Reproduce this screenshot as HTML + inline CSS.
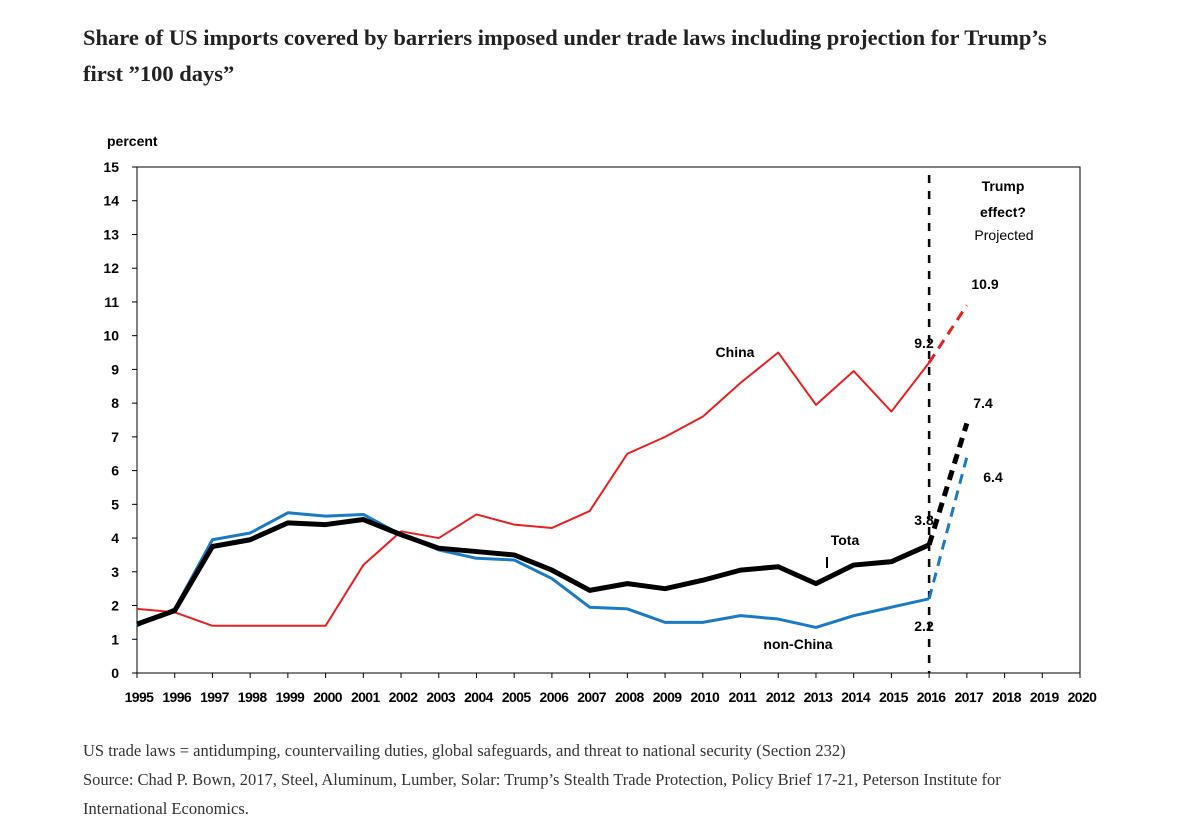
<!DOCTYPE html>
<html><head><meta charset="utf-8"><style>
body{margin:0;background:#fff;width:1183px;height:833px;overflow:hidden;position:relative;font-family:"Liberation Serif",serif}
.title{position:absolute;left:83px;top:20px;width:985px;font-weight:bold;font-size:22.5px;line-height:36px;color:#222}
.note{position:absolute;left:83px;font-size:16.5px;color:#333;line-height:29px}
svg text{font-family:"Liberation Sans",sans-serif;font-weight:bold;font-size:14px;fill:#000}
</style></head><body>
<div class="title">Share of US imports covered by barriers imposed under trade laws including projection for Trump’s first ”100 days”</div>
<svg id="chart" width="1183" height="833" style="position:absolute;left:0;top:0"></svg>
<div class="note" style="top:736px">US trade laws = antidumping, countervailing duties, global safeguards, and threat to national security (Section 232)</div>
<div class="note" style="top:765px;width:1000px">Source: Chad P. Bown, 2017, Steel, Aluminum, Lumber, Solar: Trump’s Stealth Trade Protection, Policy Brief 17-21, Peterson Institute for International Economics.</div>
<script>
const years=[1995,1996,1997,1998,1999,2000,2001,2002,2003,2004,2005,2006,2007,2008,2009,2010,2011,2012,2013,2014,2015,2016];
const china=[1.9,1.8,1.4,1.4,1.4,1.4,3.2,4.2,4.0,4.7,4.4,4.3,4.8,6.5,7.0,7.6,8.6,9.5,7.95,8.95,7.75,9.2];
const total=[1.45,1.85,3.75,3.95,4.45,4.4,4.55,4.1,3.7,3.6,3.5,3.05,2.45,2.65,2.5,2.75,3.05,3.15,2.65,3.2,3.3,3.8];
const nonChina=[1.4,1.9,3.95,4.15,4.75,4.65,4.7,4.1,3.65,3.4,3.35,2.8,1.95,1.9,1.5,1.5,1.7,1.6,1.35,1.7,1.95,2.2];
const projChina=10.9, projTotal=7.4, projNon=6.4;
const yTicks=[0,1,2,3,4,5,6,7,8,9,10,11,12,13,14,15];
const xTicks=[1995,1996,1997,1998,1999,2000,2001,2002,2003,2004,2005,2006,2007,2008,2009,2010,2011,2012,2013,2014,2015,2016,2017,2018,2019,2020];
const X0=137,X1=1080,Y0=673,Y1=167;
const xs=y=>X0+(y-1995)*(X1-X0)/25, ys=v=>Y0-v*(Y0-Y1)/15;
const svg=document.getElementById('chart'),NS='http://www.w3.org/2000/svg';
function mk(t,a,txt){const e=document.createElementNS(NS,t);for(const k in a)e.setAttribute(k,a[k]);if(txt!==undefined)e.textContent=txt;svg.appendChild(e);return e;}
let e=mk('rect',{x:X0,y:Y1,width:X1-X0,height:Y0-Y1,fill:'none',stroke:'#000','stroke-width':1});


yTicks.forEach(v=>{mk('line',{x1:X0-5,x2:X0,y1:ys(v),y2:ys(v),stroke:'#000'});
 e=mk('text',{x:119,y:ys(v)+5,'text-anchor':'end'},v);
 
 });
xTicks.forEach(v=>{mk('line',{x1:xs(v),x2:xs(v),y1:Y0,y2:Y0+5,stroke:'#000'});
 e=mk('text',{x:xs(v)+2,y:Y0+29,'text-anchor':'middle','font-size':'13.5','letter-spacing':'-0.6'},v);
 
 });
e=mk('text',{x:107,y:146},'percent');


mk('line',{x1:xs(2016),x2:xs(2016),y1:Y1+8,y2:Y0,stroke:'#000','stroke-width':2.5,'stroke-dasharray':'8,8'});
function line(arr,col,w,name){const p=arr.map((v,i)=>xs(years[i])+','+ys(v)).join(' ');
 e=mk('polyline',{points:p,fill:'none',stroke:col,'stroke-width':w,'stroke-linejoin':'round'});
 
 }
function proj(last,v,col,w,name){e=mk('line',{x1:xs(2016),y1:ys(last),x2:xs(2017),y2:ys(v),stroke:col,'stroke-width':w,'stroke-dasharray':'10,7'});
 
 }
line(nonChina,'#1a7ac4',3,'non-china-line');
line(china,'#e82020',2,'china-line');
line(total,'#000',5,'total-line');
proj(nonChina[21],projNon,'#1a7ac4',3,'non-china-projection');
proj(china[21],projChina,'#e82020',3,'china-projection');
proj(total[21],projTotal,'#000',5,'total-projection');
const labels=[[735,357,'China','china-label'],[845,545,'Tota','total-label'],[798,649,'non-China','non-china-label'],
[1003,191,'Trump','trump-effect-label'],[1003,217,'effect?','trump-effect-label2'],[985,289,'10.9','value-china-2017'],[924,348,'9.2','value-china-2016'],
[983,408,'7.4','value-total-2017'],[993,482,'6.4','value-nonchina-2017'],[924,525,'3.8','value-total-2016'],[924,631,'2.2','value-nonchina-2016']];
labels.forEach(l=>{e=mk('text',{x:l[0],y:l[1],'text-anchor':'middle','font-size':'15'},l[2]);
 
 });
e=mk('text',{x:1004,y:240,'text-anchor':'middle','font-size':'15',style:'font-weight:normal'},'Projected');


mk('line',{x1:827,x2:827,y1:557,y2:568,stroke:'#000','stroke-width':2});
</script>
</body></html>
